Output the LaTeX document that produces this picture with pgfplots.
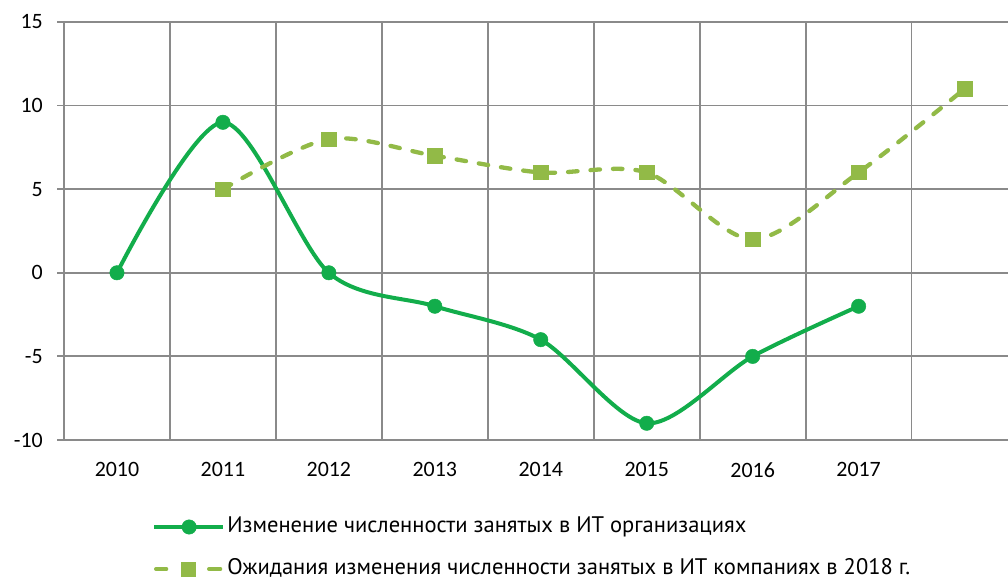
\documentclass[border=0pt]{standalone}
\usepackage{fontspec}
\usepackage{pgfplots}
\pgfplotsset{compat=1.18}
\setmainfont{PT Sans}
\newfontfamily\carlito{Carlito}
\definecolor{cA}{RGB}{18,173,75}
\definecolor{cB}{RGB}{146,186,71}
\definecolor{gridc}{RGB}{138,138,138}
\pgfplotsset{
  legA/.style={legend image code/.code={\path (0bp,0bp) (72bp,0bp);
    \draw[##1] (2bp,0bp) -- (71bp,0bp);
    \path[##1] plot coordinates {(37bp,0bp)};}},
  legB/.style={legend image code/.code={\path (0bp,0bp) (72bp,0bp);
    \draw[##1,solid] (4bp,0bp) -- (14bp,0bp);
    \draw[##1,solid] (57bp,0bp) -- (68bp,0bp);
    \path[##1] plot coordinates {(36bp,0bp)};}},
}
\begin{document}
\begin{tikzpicture}
\useasboundingbox (-57bp,-139bp) rectangle (951bp,440bp);
\begin{axis}[
  at={(0,0)}, anchor=south west, scale only axis,
  width=951bp, height=418bp,
  xmin=-0.566, xmax=8.41, ymin=-10, ymax=15,
  axis line style={draw=none},
  tick style={draw=none},
  xtick={0,1,2,3,4,5,6,7},
  xticklabels={2010,2011,2012,2013,2014,2015,2016,2017},
  minor xtick={-0.5,0.5,1.5,2.5,3.5,4.5,5.5,6.5,7.5},
  ytick={-10,-5,0,5,10,15},
  yticklabels={-10,-5,0,5,10,15},
  xminorgrids=true, ymajorgrids=true,
  major grid style={gridc, line width=1.8bp},
  minor grid style={gridc, line width=1.8bp},
  ticklabel style={font=\carlito\fontsize{22}{22}\selectfont, inner sep=0pt},
  yticklabel style={xshift=-14bp},
  xticklabel style={yshift=-22bp},
  legend cell align=left,
  legend style={at={(0.0978,-0.1854)}, anchor=north west, draw=none, fill=none,
    inner sep=0pt, outer sep=0pt, row sep=23bp, column sep=1bp,
    nodes={inner sep=0pt, text height=15bp, text depth=4bp, font=\fontsize{22.6}{26}\selectfont}},
]
\addplot[cA, line width=4bp, smooth, mark=*, mark size=7.2bp,
  mark options={solid, fill=cA, draw=cA, line width=0.5bp}, legA]
  coordinates {(0,0) (1,9) (2,0) (3,-2) (4,-4) (5,-9) (6,-5) (7,-2)};
\addlegendentry{Изменение численности занятых в ИТ организациях}
\addplot[cB, line width=4.3bp, smooth, dash pattern=on 9.5bp off 13bp, line cap=round,
  mark=square*, mark size=7.2bp,
  mark options={solid, fill=cB, draw=cB, line width=0.5bp}, legB]
  coordinates {(1,5) (2,8) (3,7) (4,6) (5,6) (6,2) (7,6) (8,11)};
\addlegendentry{Ожидания изменения численности занятых в ИТ компаниях в 2018 г.}
\end{axis}
\end{tikzpicture}
\end{document}
